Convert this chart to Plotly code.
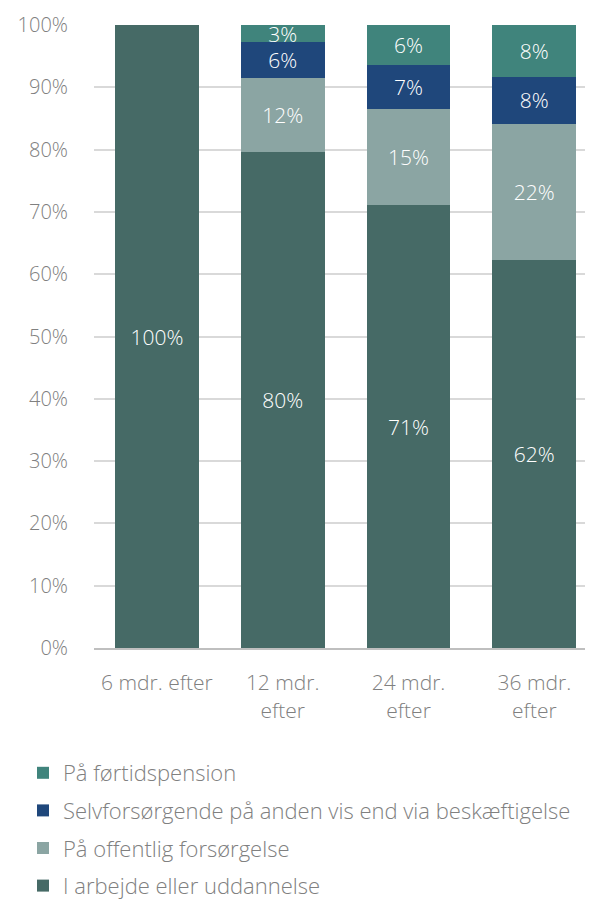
import plotly.graph_objects as go

categories = ["6 mdr. efter", "12 mdr.<br>efter", "24 mdr.<br>efter", "36 mdr.<br>efter"]
series_names = [
    "I arbejde eller uddannelse",
    "På offentlig forsørgelse",
    "Selvforsørgende på anden vis end via beskæftigelse",
    "På førtidspension",
]
arbejde = [100.0, 79.6, 71.1, 62.3]
offentlig = [0.0, 11.9, 15.4, 21.8]
selvforsorgende = [0.0, 5.7, 7.1, 7.6]
fortidspension = [0.0, 2.8, 6.4, 8.3]
colors = ["#466A66", "#8BA5A3", "#1F477B", "#40847C"]

values = [arbejde, offentlig, selvforsorgende, fortidspension]

FONT = "Open Sans"

fig = go.Figure()
for i, (name, vals, col) in enumerate(zip(series_names, values, colors)):
    fig.add_trace(go.Bar(
        x=categories,
        y=vals,
        name=name,
        legendgroup=f"g{i}",
        legendrank=10 - i,
        marker=dict(color=col, line=dict(width=0)),
        text=[f"{round(v)}%" if v > 0 else "" for v in vals],
        textposition="inside",
        insidetextanchor="middle",
        constraintext="none",
        textangle=0,
        textfont=dict(color="white", size=21, family=FONT, weight=300),
        hoverinfo="skip",
    ))

fig.update_layout(
    barmode="stack",
    bargap=0.333,
    width=593,
    height=899,
    paper_bgcolor="white",
    plot_bgcolor="white",
    margin=dict(l=86, r=0, t=17, b=259, autoexpand=False),
    font=dict(family=FONT, size=20, color="#808080", weight=300),
    showlegend=True,
    legend=dict(
        orientation="v",
        traceorder="grouped",
        xref="container",
        yref="container",
        x=15 / 593,
        xanchor="left",
        y=1 - 744 / 899,
        yanchor="top",
        font=dict(family=FONT, size=22, color="#808080", weight=300),
        tracegroupgap=6,
        itemwidth=30,
    ),
    xaxis=dict(
        range=[-0.5, 3.53],
        showline=True,
        linecolor="#BFBFBF",
        linewidth=2,
        ticks="",
        tickangle=0,
        tickfont=dict(size=21, color="#808080", family=FONT, weight=300),
        ticklabelstandoff=15,
        showgrid=False,
    ),
    yaxis=dict(
        range=[0, 100],
        dtick=10,
        ticksuffix="%",
        showgrid=True,
        gridcolor="#D9D9D9",
        gridwidth=1.5,
        zeroline=False,
        ticks="",
        tickfont=dict(size=20, color="#808080", family=FONT, weight=300),
        ticklabelstandoff=25,
    ),
)

fig.write_html("out.html")
